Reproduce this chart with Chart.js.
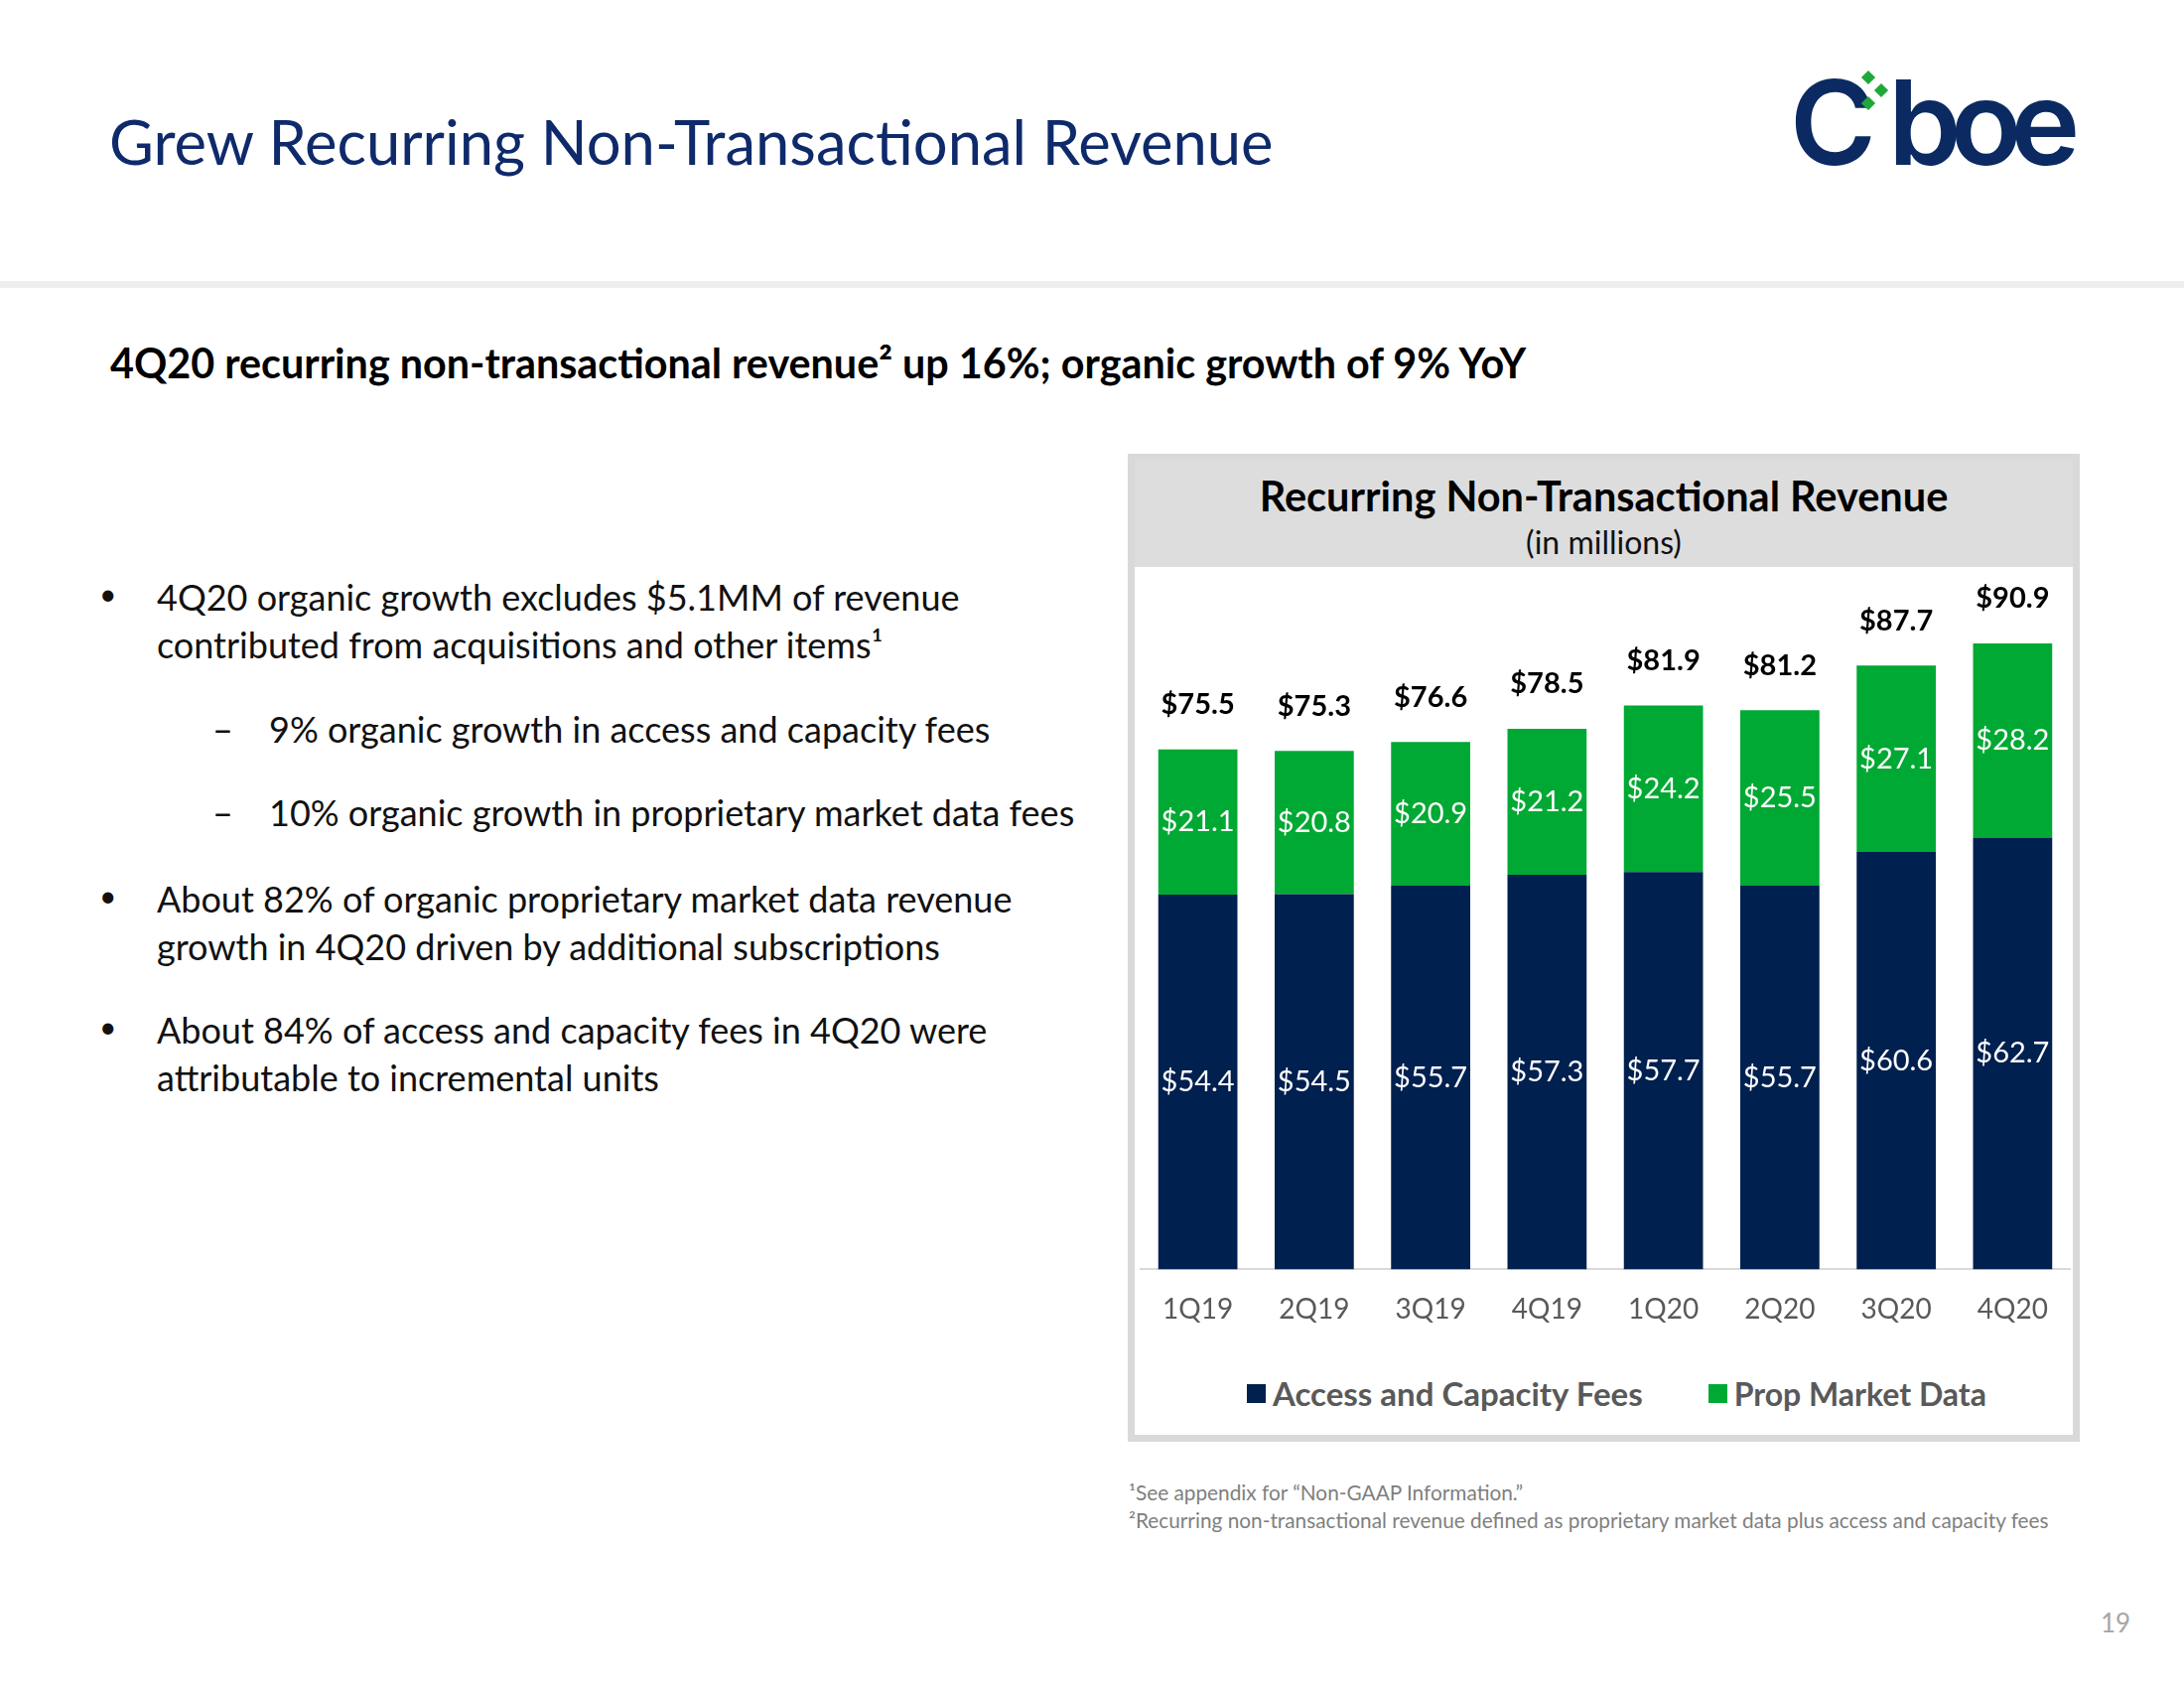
<!DOCTYPE html>
<html>
<head>
<meta charset="utf-8">
<script src="https://cdn.jsdelivr.net/npm/chart.js@4.4.1/dist/chart.umd.min.js"></script>
<style>
  body { margin: 0; width: 2200px; height: 1700px; background: #fff; position: relative; overflow: hidden;
         font-family: Lato, "Open Sans", sans-serif; }
  .abs { position: absolute; white-space: nowrap; }
  #title { left: 110px; top: 112px; font-size: 61.5px; color: #0e2a6b; line-height: 1; }
  #sep { left: 0; top: 283px; width: 2200px; height: 7px; background: #efefef; }
  #sub { left: 111px; top: 345px; font-size: 41.3px; font-weight: 700; color: #000; line-height: 1; }
  .bl { font-size: 36px; color: #111; line-height: 1.32; }
  .dot { font-size: 30px; }
  #box { left: 1136px; top: 457px; width: 945px; height: 981px; border: 7px solid #d9d9d9; background: #fff; }
  #band { left: 1143px; top: 464px; width: 945px; height: 107px; background: #dddddd; }
  #ctitle { left: 1143px; width: 945px; top: 474px; text-align: center; font-size: 41.5px; font-weight: 700; color: #000; }
  #cunit { left: 1143px; width: 945px; top: 526px; text-align: center; font-size: 32px; color: #111; }
  #wrap { left: 1148px; top: 571px; width: 938px; height: 781px; }
  #legend { left: 1156px; width: 945px; top: 1383px; height: 40px; display: flex; justify-content: center;
            align-items: center; gap: 66px; }
  .lg-item { display: flex; align-items: center; gap: 7px; font-size: 33px; font-weight: 700; color: #595959; }
  .lg-item:last-child { font-size: 32px; }
  .lg-box { width: 19px; height: 19px; }
  .fn { left: 1137px; font-size: 20.8px; color: #7f7f7f; }
  #page { left: 2116px; top: 1618px; font-size: 26px; color: #a6a6a6; }
  .logo { top: 64px; font-family: Inter, Lato, sans-serif; font-weight: 600; font-size: 118px; color: #0b2a62; line-height: 1; }
  #logoC { left: 1803px; }
  #logoB { left: 1902px; letter-spacing: -11px; }
  .dia { width: 10px; height: 10px; background: #1fa83a; transform: rotate(45deg); }
</style>
</head>
<body>
<div id="title" class="abs">Grew Recurring Non-Transactional Revenue</div>
<div id="logoC" class="abs logo">C</div>
<div id="logoB" class="abs logo">boe</div>
<div class="abs dia" style="left:1877px;top:73px"></div>
<div class="abs dia" style="left:1890px;top:86px"></div>
<div class="abs dia" style="left:1877px;top:99px"></div>
<div id="sep" class="abs"></div>
<div id="sub" class="abs">4Q20 recurring non-transactional revenue² up 16%; organic growth of 9% YoY</div>

<div class="abs bl dot" style="left:100px;top:578px">•</div>
<div class="abs bl" style="left:158px;top:578px">4Q20 organic growth excludes $5.1MM of revenue<br>contributed from acquisitions and other items¹</div>
<div class="abs bl" style="left:214px;top:711px">–</div>
<div class="abs bl" style="left:271px;top:711px">9% organic growth in access and capacity fees</div>
<div class="abs bl" style="left:214px;top:795px">–</div>
<div class="abs bl" style="left:271px;top:795px">10% organic growth in proprietary market data fees</div>
<div class="abs bl dot" style="left:100px;top:882px">•</div>
<div class="abs bl" style="left:158px;top:882px">About 82% of organic proprietary market data revenue<br>growth in 4Q20 driven by additional subscriptions</div>
<div class="abs bl dot" style="left:100px;top:1014px">•</div>
<div class="abs bl" style="left:158px;top:1014px">About 84% of access and capacity fees in 4Q20 were<br>attributable to incremental units</div>

<div id="box" class="abs"></div>
<div id="band" class="abs"></div>
<div id="ctitle" class="abs">Recurring Non-Transactional Revenue</div>
<div id="cunit" class="abs">(in millions)</div>
<div id="wrap" class="abs"><canvas id="c"></canvas></div>
<div id="legend" class="abs"></div>

<div class="abs fn" style="top:1490px">¹See appendix for “Non-GAAP Information.”</div>
<div class="abs fn" style="top:1518px">²Recurring non-transactional revenue defined as proprietary market data plus access and capacity fees</div>
<div id="page" class="abs">19</div>

<script>
// ── 資料 ────────────────────────────────────────────────
const quarters   = ["1Q19", "2Q19", "3Q19", "4Q19", "1Q20", "2Q20", "3Q20", "4Q20"];
const accessFees = [54.4, 54.5, 55.7, 57.3, 57.7, 55.7, 60.6, 62.7];
const propData   = [21.1, 20.8, 20.9, 21.2, 24.2, 25.5, 27.1, 28.2];
const totals     = [75.5, 75.3, 76.6, 78.5, 81.9, 81.2, 87.7, 90.9];

const NAVY  = "#00204f";
const GREEN = "#00a933";
const FONT  = "Lato, 'Open Sans', sans-serif";

// ── 標籤 plugin ──────────────────────────────────────────
const barLabels = {
  id: "bar-labels",
  afterDatasetsDraw(chart) {
    const { ctx } = chart;
    ctx.save();
    ctx.textAlign = "center";
    ctx.textBaseline = "middle";
    // segment values (white, centered)
    ctx.font = `29px ${FONT}`;
    ctx.fillStyle = "#fff";
    chart.data.datasets.forEach((ds, di) => {
      chart.getDatasetMeta(di).data.forEach((bar, i) => {
        ctx.fillText(`$${ds.data[i].toFixed(1)}`, bar.x, (bar.y + bar.base) / 2);
      });
    });
    // totals above the stack
    ctx.font = `bold 29px ${FONT}`;
    ctx.fillStyle = "#000";
    const top = chart.getDatasetMeta(chart.data.datasets.length - 1).data;
    top.forEach((bar, i) => {
      ctx.fillText(`$${totals[i].toFixed(1)}`, bar.x, bar.y - 45);
    });
    ctx.restore();
  },
};

const chart = new Chart(document.getElementById("c"), {
  type: "bar",
  data: {
    labels: quarters,
    datasets: [
      { label: "Access and Capacity Fees", data: accessFees, backgroundColor: NAVY,
        categoryPercentage: 1, barPercentage: 0.68 },
      { label: "Prop Market Data", data: propData, backgroundColor: GREEN,
        categoryPercentage: 1, barPercentage: 0.68 },
    ],
  },
  options: {
    responsive: true,
    maintainAspectRatio: false,
    animation: false,
    layout: { padding: 0 },
    scales: {
      x: {
        stacked: true,
        grid: { display: false },
        border: { color: "#d9d9d9", width: 2 },
        ticks: { color: "#595959", font: { family: FONT, size: 28 }, padding: 16 },
      },
      y: { stacked: true, display: false, min: 0, max: 102 },
    },
    plugins: {
      legend: { display: false },
      tooltip: { enabled: false },
    },
  },
  plugins: [barLabels],
});

// ── 圖例 ────────────────────────────────────────────────
document.getElementById("legend").innerHTML = chart.data.datasets.map(ds => `
  <div class="lg-item"><span class="lg-box" style="background:${ds.backgroundColor}"></span>${ds.label}</div>
`).join("");
</script>
</body>
</html>
